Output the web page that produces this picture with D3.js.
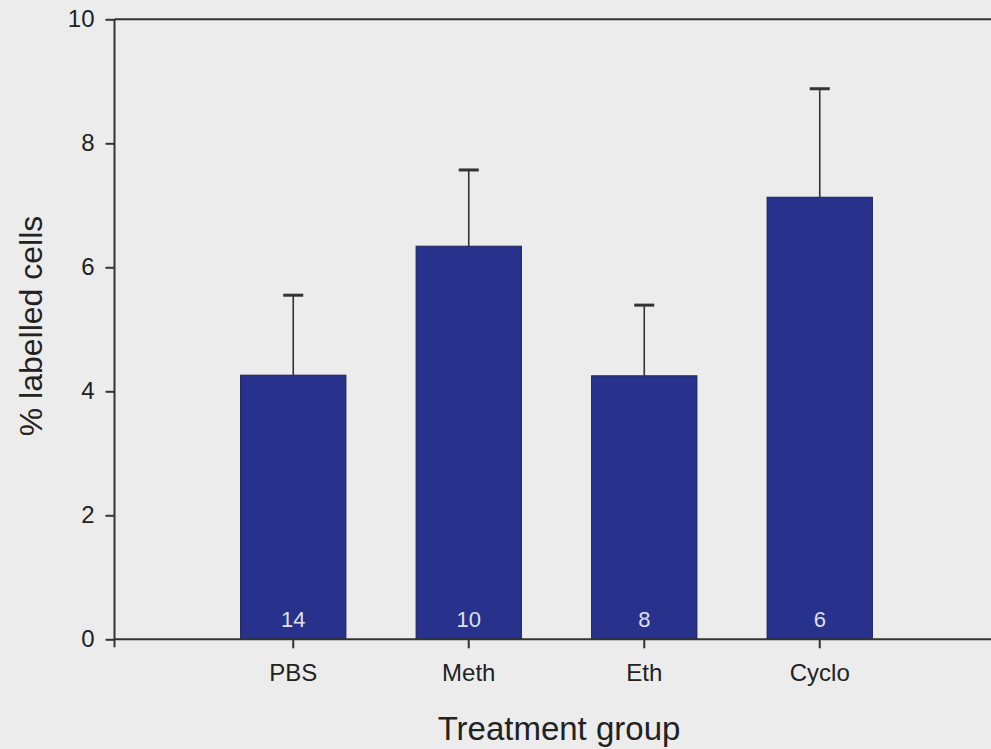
<!DOCTYPE html>
<html>
<head>
<meta charset="utf-8">
<script src="https://cdn.jsdelivr.net/npm/d3@7"></script>
<style>
  html, body { margin: 0; padding: 0; background: #ececec; }
  svg { display: block; }
</style>
</head>
<body>
<svg id="chart" width="991" height="749"></svg>
<script>
// Treatment groups and their values (% labelled cells, mean and upper error)
const groups = ["PBS", "Meth", "Eth", "Cyclo"];
const means = [4.26, 6.34, 4.25, 7.13];
const errors = [1.29, 1.23, 1.14, 1.75];
const counts = [14, 10, 8, 6];
const yTicks = [0, 2, 4, 6, 8, 10];

const W = 991, H = 749;
const svg = d3.select("#chart");
const font = "'Liberation Sans', Arial, sans-serif";

svg.append("rect").attr("width", W).attr("height", H).attr("fill", "#ececec");

// scales
const y = d3.scaleLinear().domain([0, 10]).range([639.3, 19.3]);
const x = d3.scaleBand().domain(groups).range([205.5, 907.5]).paddingInner(0.4).paddingOuter(0.2);
const axisX = 114.5;
const lineColor = "#333";

const data = groups.map((g, i) => ({ g, mean: means[i], err: errors[i], n: counts[i] }));

// bars
svg.append("g").selectAll("rect").data(data).join("rect")
  .attr("x", d => x(d.g))
  .attr("y", d => y(d.mean))
  .attr("width", x.bandwidth())
  .attr("height", d => y(0) - y(d.mean))
  .attr("fill", "#28318c")
  .attr("stroke", "#1c2255")
  .attr("stroke-width", 1);

// error bars
const eb = svg.append("g").attr("stroke", lineColor);
eb.selectAll("line.stem").data(data).join("line")
  .attr("class", "stem")
  .attr("x1", d => x(d.g) + x.bandwidth() / 2)
  .attr("x2", d => x(d.g) + x.bandwidth() / 2)
  .attr("y1", d => y(d.mean))
  .attr("y2", d => y(d.mean + d.err))
  .attr("stroke-width", 1.6);
eb.selectAll("line.cap").data(data).join("line")
  .attr("class", "cap")
  .attr("x1", d => x(d.g) + x.bandwidth() / 2 - 10)
  .attr("x2", d => x(d.g) + x.bandwidth() / 2 + 10)
  .attr("y1", d => y(d.mean + d.err))
  .attr("y2", d => y(d.mean + d.err))
  .attr("stroke-width", 3);

// count labels inside bars
svg.append("g").selectAll("text").data(data).join("text")
  .attr("x", d => x(d.g) + x.bandwidth() / 2)
  .attr("y", y(0) - 12)
  .attr("text-anchor", "middle")
  .attr("font-family", font).attr("font-size", 22)
  .attr("fill", "#dfe0ea")
  .text(d => d.n);

// y axis
const yAxis = d3.axisLeft(y).tickValues(yTicks).tickSize(9).tickPadding(11).tickFormat(d3.format("d"));
const gy = svg.append("g").attr("transform", `translate(${axisX},0)`).call(yAxis);
gy.select(".domain").remove();
gy.selectAll(".tick line").attr("stroke", lineColor).attr("stroke-width", 2);
gy.selectAll(".tick text").attr("font-family", font).attr("font-size", 24).attr("fill", "#222");
gy.append("line").attr("x1", 0).attr("x2", 0).attr("y1", y(10)).attr("y2", y(0) + 8)
  .attr("stroke", lineColor).attr("stroke-width", 2);

// top frame line at the axis maximum
svg.append("line").attr("x1", axisX).attr("x2", W).attr("y1", y(10)).attr("y2", y(10))
  .attr("stroke", lineColor).attr("stroke-width", 2);

// x axis
const xAxis = d3.axisBottom(x).tickSize(9).tickPadding(16);
const gx = svg.append("g").attr("transform", `translate(0,${y(0)})`).call(xAxis);
gx.select(".domain").remove();
gx.selectAll(".tick line").attr("stroke", lineColor).attr("stroke-width", 2);
gx.selectAll(".tick text").attr("font-family", font).attr("font-size", 24).attr("fill", "#222");
gx.append("line").attr("x1", axisX).attr("x2", W).attr("y1", 0).attr("y2", 0)
  .attr("stroke", lineColor).attr("stroke-width", 2);

// axis titles
svg.append("text")
  .attr("x", 559).attr("y", 740)
  .attr("text-anchor", "middle")
  .attr("font-family", font).attr("font-size", 33).attr("fill", "#222")
  .text("Treatment group");
svg.append("text")
  .attr("transform", "translate(42,326) rotate(-90)")
  .attr("text-anchor", "middle")
  .attr("font-family", font).attr("font-size", 32).attr("fill", "#222")
  .text("% labelled cells");
</script>
</body>
</html>
